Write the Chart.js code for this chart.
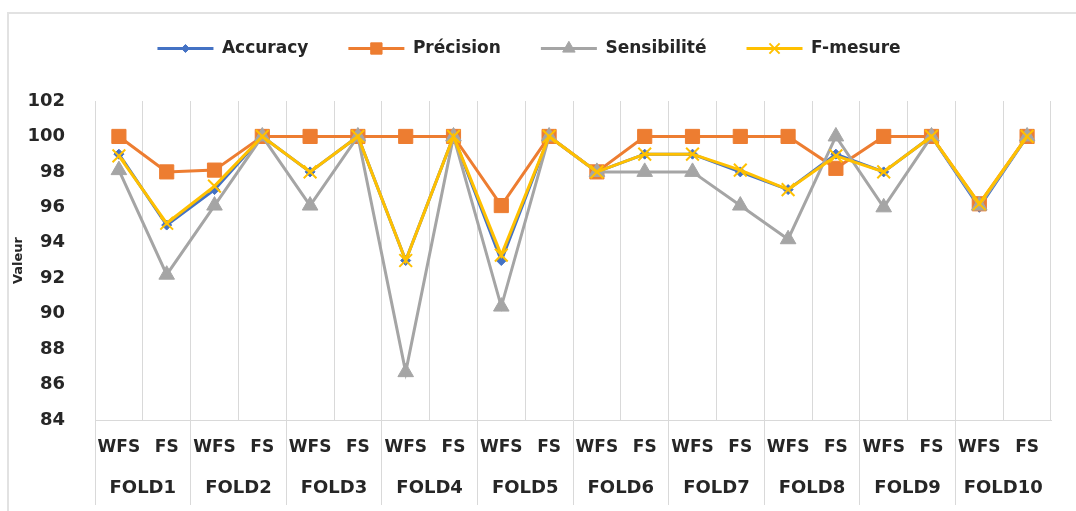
<!DOCTYPE html>
<html lang="fr">
<head>
<meta charset="utf-8">
<title>Valeur par fold</title>
<script src="https://cdn.jsdelivr.net/npm/chart.js@4.4.1/dist/chart.umd.min.js"></script>
<style>
  html, body { margin: 0; padding: 0; background: #fff; }
  #cadre { position: relative; width: 1076px; height: 511px; overflow: hidden; }
  #bordure { position: absolute; left: 7px; top: 12px; width: 1100px; height: 530px; border: 2px solid #e2e2e2; box-sizing: border-box; }
  #graphique { position: absolute; left: 0; top: 0; }
</style>
</head>
<body>
<div id="cadre">
  <div id="bordure"></div>
  <canvas id="graphique" width="1076" height="511"></canvas>
</div>
<script>
// 10 folds, chacun sans (WFS) et avec (FS) sélection de features
const folds = ['FOLD1', 'FOLD2', 'FOLD3', 'FOLD4', 'FOLD5', 'FOLD6', 'FOLD7', 'FOLD8', 'FOLD9', 'FOLD10'];
const variantes = ['WFS', 'FS'];
const etiquettes = folds.flatMap(() => variantes);

const accuracy    = [99, 95, 97, 100, 98, 100, 93, 100, 93, 100, 98, 99, 99, 98, 97, 99, 98, 100, 96, 100];
const precision   = [100, 98, 98.1, 100, 100, 100, 100, 100, 96.1, 100, 98, 100, 100, 100, 100, 98.2, 100, 100, 96.2, 100];
const sensibilite = [98.1, 92.2, 96.1, 100, 96.1, 100, 86.7, 100, 90.4, 100, 98, 98, 98, 96.1, 94.2, 100, 96, 100, 96.1, 100];
const fMesure     = [98.9, 95.1, 97.2, 100, 98, 100, 93, 100, 93.3, 100, 98, 99, 99, 98.1, 97, 98.9, 98, 100, 96.2, 100];

const yTicks = { min: 84, max: 102, pas: 2 };

const couleurGrille = '#d9d9d9';
const couleurTexte = '#262626';
const police = 'DejaVu Sans';

function serie(label, data, couleur, forme, rayon, bord, ordre) {
    return {
        label, data,
        xAxisID: 'x', yAxisID: 'y',
        borderColor: couleur, backgroundColor: couleur, borderWidth: 3,
        pointStyle: forme, pointRadius: rayon, pointHoverRadius: rayon,
        pointBackgroundColor: couleur, pointBorderColor: couleur, pointBorderWidth: bord,
        tension: 0,
        order: ordre // la dernière série passe au-dessus
    };
}

// Légende : trait de couleur + marqueur au milieu
const marqueursLegende = {
    id: 'marqueursLegende',
    afterDraw(chart) {
        const legende = chart.legend;
        const taille = legende.options.labels.font.size;
        const largeur = legende.options.labels.boxWidth;
        const ctx = chart.ctx;
        legende.legendItems.forEach((item, i) => {
            const boite = legende.legendHitBoxes[i];
            const ds = chart.data.datasets[item.datasetIndex];
            ctx.save();
            ctx.fillStyle = ds.pointBackgroundColor;
            ctx.strokeStyle = ds.pointBorderColor;
            ctx.lineWidth = ds.pointBorderWidth;
            Chart.helpers.drawPoint(ctx, {
                pointStyle: ds.pointStyle,
                radius: ds.pointRadius * 0.8,
                borderWidth: ds.pointBorderWidth,
                rotation: 0
            }, boite.left + largeur / 2, boite.top + taille / 2);
            ctx.restore();
        });
    }
};

const ctx = document.getElementById('graphique').getContext('2d');

new Chart(ctx, {
    type: 'line',
    data: {
        labels: etiquettes,
        datasets: [
            serie('Accuracy', accuracy, '#4472C4', 'rectRot', 5, 1, 4),
            serie('Précision', precision, '#ED7D31', 'rect', 10, 1, 3),
            serie('Sensibilité', sensibilite, '#A5A5A5', 'triangle', 9, 1, 2),
            serie('F-mesure', fMesure, '#FFC000', 'crossRot', 9, 2, 1)
        ]
    },
    options: {
        responsive: false,
        animation: false,
        layout: { padding: { left: 7, right: 25, top: 0, bottom: 6 } },
        plugins: {
            tooltip: { enabled: false },
            legend: {
                position: 'top',
                labels: {
                    boxWidth: 56,
                    boxHeight: 3,
                    padding: 40,
                    color: couleurTexte,
                    font: { family: police, size: 17, weight: 'bold' },
                    sort: (a, b) => a.datasetIndex - b.datasetIndex,
                    generateLabels(chart) {
                        const items = Chart.defaults.plugins.legend.labels.generateLabels(chart);
                        items.forEach(it => { it.fillStyle = it.strokeStyle; it.lineWidth = 0; });
                        return items;
                    }
                }
            }
        },
        scales: {
            x: {
                type: 'category',
                offset: true,
                grid: {
                    offset: true,
                    color: couleurGrille,
                    drawTicks: true,
                    tickLength: 85,
                    // les séparateurs sous l'axe ne marquent que les folds
                    tickColor: c => c.index % 2 === 0 ? couleurGrille : 'rgba(0,0,0,0)'
                },
                border: { display: true, color: couleurGrille },
                ticks: {
                    autoSkip: false, maxRotation: 0, minRotation: 0,
                    padding: -68,
                    color: couleurTexte,
                    font: { family: police, size: 17, weight: 'bold' }
                },
                afterFit: s => { s.height = 45; }
            },
            x2: {
                type: 'category',
                labels: folds,
                offset: true,
                position: 'bottom',
                weight: 1,
                grid: { display: false },
                border: { display: false },
                ticks: {
                    autoSkip: false, maxRotation: 0, minRotation: 0,
                    padding: 5,
                    color: couleurTexte,
                    font: { family: police, size: 18, weight: 'bold' }
                },
                afterFit: s => { s.height = 40; }
            },
            // espace entre la légende et la zone de tracé
            marge: {
                type: 'linear',
                position: 'top',
                grid: { display: false },
                border: { display: false },
                ticks: { display: false },
                afterFit: s => { s.height = 34; }
            },
            y: {
                min: yTicks.min,
                max: yTicks.max,
                grid: { display: false },
                border: { display: false },
                ticks: {
                    stepSize: yTicks.pas,
                    padding: 22,
                    color: couleurTexte,
                    font: { family: police, size: 18, weight: 'bold' }
                },
                title: {
                    display: true,
                    text: 'Valeur',
                    color: couleurTexte,
                    font: { family: police, size: 13, weight: 'bold' },
                    padding: { top: 4, bottom: 0 }
                },
                afterFit: s => { s.width = 88; }
            }
        }
    },
    plugins: [marqueursLegende]
});
</script>
</body>
</html>
